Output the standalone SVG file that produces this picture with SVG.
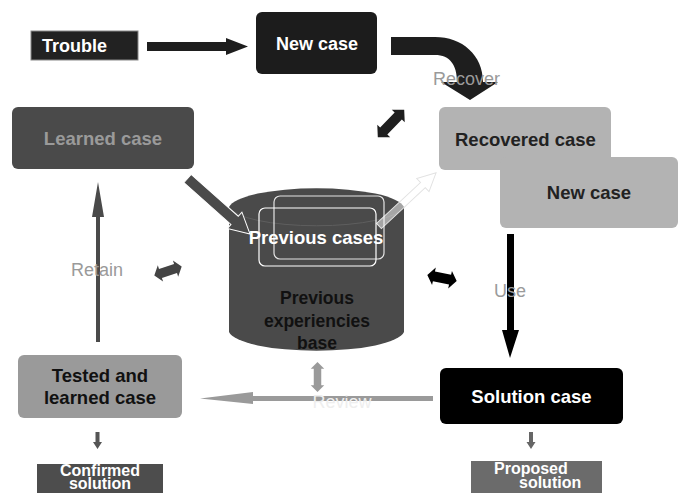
<svg xmlns="http://www.w3.org/2000/svg" width="682" height="493" viewBox="0 0 682 493">
  <style>
    .b { font-family: "Liberation Sans", Arial, sans-serif; font-weight: bold; }
    .v { font-family: "Liberation Sans", Arial, sans-serif; font-size: 18px; fill: #9a9a9a; }
    .w { fill: #ffffff; }
    .k { fill: #111111; }
  </style>
  <defs>
    <path id="dbl" d="M-20,0 L-11,-9 L-11,-5 L11,-5 L11,-9 L20,0 L11,9 L11,5 L-11,5 L-11,9 Z"/>
  </defs>
  <rect width="682" height="493" fill="#ffffff"/>

  <g id="cylinder">
    <path d="M229,207 A88,21 0 0 1 404,207 L404,332 A88,21 0 0 1 229,332 Z" fill="#4a4a4a"/>
    <path d="M229,207 A88,21 0 0 0 404,207" fill="none" stroke="#5e5e5e" stroke-width="1"/>
    <text class="b k" font-size="17.5" text-anchor="middle" x="317" y="304">Previous</text>
    <text class="b k" font-size="17.5" text-anchor="middle" x="317" y="327">experiencies</text>
    <text class="b k" font-size="17.5" text-anchor="middle" x="317" y="349">base</text>
  </g>

  <g id="connectors">
    <!-- Trouble -> New case -->
    <path d="M147,42 L226,42 L226,38 L248,46.5 L226,55 L226,51 L147,51 Z" fill="#1e1e1e"/>
    <!-- Recover curved arrow -->
    <path d="M391,37 L435,37 C462,37 483,55 483,82 L498,82 L470,100 L441,82 L457,82 C457,65 450,55 435,55 L391,55 Z" fill="#1e1e1e"/>
    <!-- Learned case -> cylinder -->
    <g transform="translate(187.5,178.5) rotate(41.6)">
      <path d="M0,-5.5 L63,-5.5 L63,-11 L83.6,0 L63,11 L63,5.5 L0,5.5 Z" fill="#4a4a4a" stroke="#ffffff" stroke-width="1"/>
    </g>
    <!-- cylinder -> Recovered case -->
    <g transform="translate(379,226) rotate(-43)">
      <path d="M0,-3.5 L60,-3.5 L60,-9 L78,0 L60,9 L60,3.5 L0,3.5 Z" fill="#ffffff" fill-opacity="0.5" stroke="#e2e2e2" stroke-width="1"/>
    </g>
    <!-- Use -->
    <path d="M507,234 L514,234 L514,330 L519,330 L510,358 L502,330 L507,330 Z" fill="#000000"/>
    <!-- Review -->
    <path d="M433,396 L253,396 L253,392 L200,398.5 L253,404 L253,401 L433,401 Z" fill="#9a9a9a"/>
    <!-- Retain -->
    <path d="M96,342 L96,217 L92,217 L98,182 L104,217 L100,217 L100,342 Z" fill="#4a4a4a"/>
    <!-- small down arrows -->
    <path d="M95.5,432 L99.5,432 L99.5,442 L102,442 L97.5,449 L93,442 L95.5,442 Z" fill="#555555"/>
    <path d="M529,432 L533,432 L533,442 L535.5,442 L531,449 L526.5,442 L529,442 Z" fill="#666666"/>
    <!-- double arrows -->
    <use href="#dbl" transform="translate(391,123.5) rotate(-46) scale(0.95,1)" fill="#1e1e1e"/>
    <use href="#dbl" transform="translate(168,271) rotate(-18) scale(0.72,0.95)" fill="#444444"/>
    <use href="#dbl" transform="translate(442,278) rotate(12) scale(0.75,1)" fill="#000000"/>
    <use href="#dbl" transform="translate(317.5,377) rotate(90) scale(0.75,0.75)" fill="#9a9a9a"/>
    <!-- verb labels -->
    <text class="v" x="433" y="85">Recover</text>
    <text class="v" x="71" y="276">Retain</text>
    <text class="v" x="494" y="297">Use</text>
    <text class="v" font-size="17" x="342" y="408" text-anchor="middle" style="fill:#eeeeee">Review</text>
  </g>

  <g id="trouble">
    <rect x="31" y="31" width="107" height="29" fill="#222222" stroke="#888888" stroke-width="1"/>
    <text class="b w" font-size="18" x="42" y="52">Trouble</text>
  </g>

  <g id="new-case-top">
    <rect x="256" y="12" width="121" height="62" rx="6" fill="#1c1c1c"/>
    <text class="b w" font-size="18" text-anchor="middle" x="317" y="50">New case</text>
  </g>

  <g id="learned-case">
    <rect x="12" y="107" width="182" height="62" rx="6" fill="#4a4a4a"/>
    <text class="b" font-size="18.5" fill="#9a9a9a" text-anchor="middle" x="103" y="145">Learned case</text>
  </g>

  <g id="previous-cases">
    <rect x="274" y="196" width="110" height="63" rx="6" fill="none" stroke="#ffffff" stroke-width="1.2" stroke-opacity="0.85"/>
    <rect x="259" y="208" width="117" height="58" rx="6" fill="none" stroke="#ffffff" stroke-width="1.2"/>
    <text class="b w" font-size="18.5" text-anchor="middle" x="316" y="244">Previous cases</text>
  </g>

  <g id="recovered-case">
    <rect x="439" y="107" width="172" height="63" rx="6" fill="#b3b3b3"/>
    <text class="b" font-size="18.5" fill="#222222" x="455" y="146">Recovered case</text>
  </g>

  <g id="new-case-second">
    <rect x="500" y="157" width="178" height="71" rx="6" fill="#b3b3b3"/>
    <text class="b" font-size="18.5" fill="#222222" text-anchor="middle" x="589" y="199">New case</text>
  </g>

  <g id="solution-case">
    <rect x="440" y="368" width="183" height="56" rx="6" fill="#000000"/>
    <text class="b w" font-size="18.5" text-anchor="middle" x="531.5" y="403">Solution case</text>
  </g>

  <g id="tested-case">
    <rect x="18" y="355" width="164" height="63" rx="6" fill="#9a9a9a"/>
    <text class="b k" font-size="18.5" text-anchor="middle" x="100" y="382">Tested and</text>
    <text class="b k" font-size="18.5" text-anchor="middle" x="100" y="404">learned case</text>
  </g>

  <g id="confirmed-solution">
    <rect x="37" y="464" width="126" height="30" fill="#4d4d4d"/>
    <text class="b w" font-size="16" text-anchor="middle" x="100" y="476">Confirmed</text>
    <text class="b w" font-size="16" text-anchor="middle" x="100" y="489">solution</text>
  </g>

  <g id="proposed-solution">
    <rect x="471" y="461" width="131" height="32" fill="#6b6b6b"/>
    <text class="b w" font-size="16" x="494" y="474">Proposed</text>
    <text class="b w" font-size="16" x="519" y="488">solution</text>
  </g>
</svg>
